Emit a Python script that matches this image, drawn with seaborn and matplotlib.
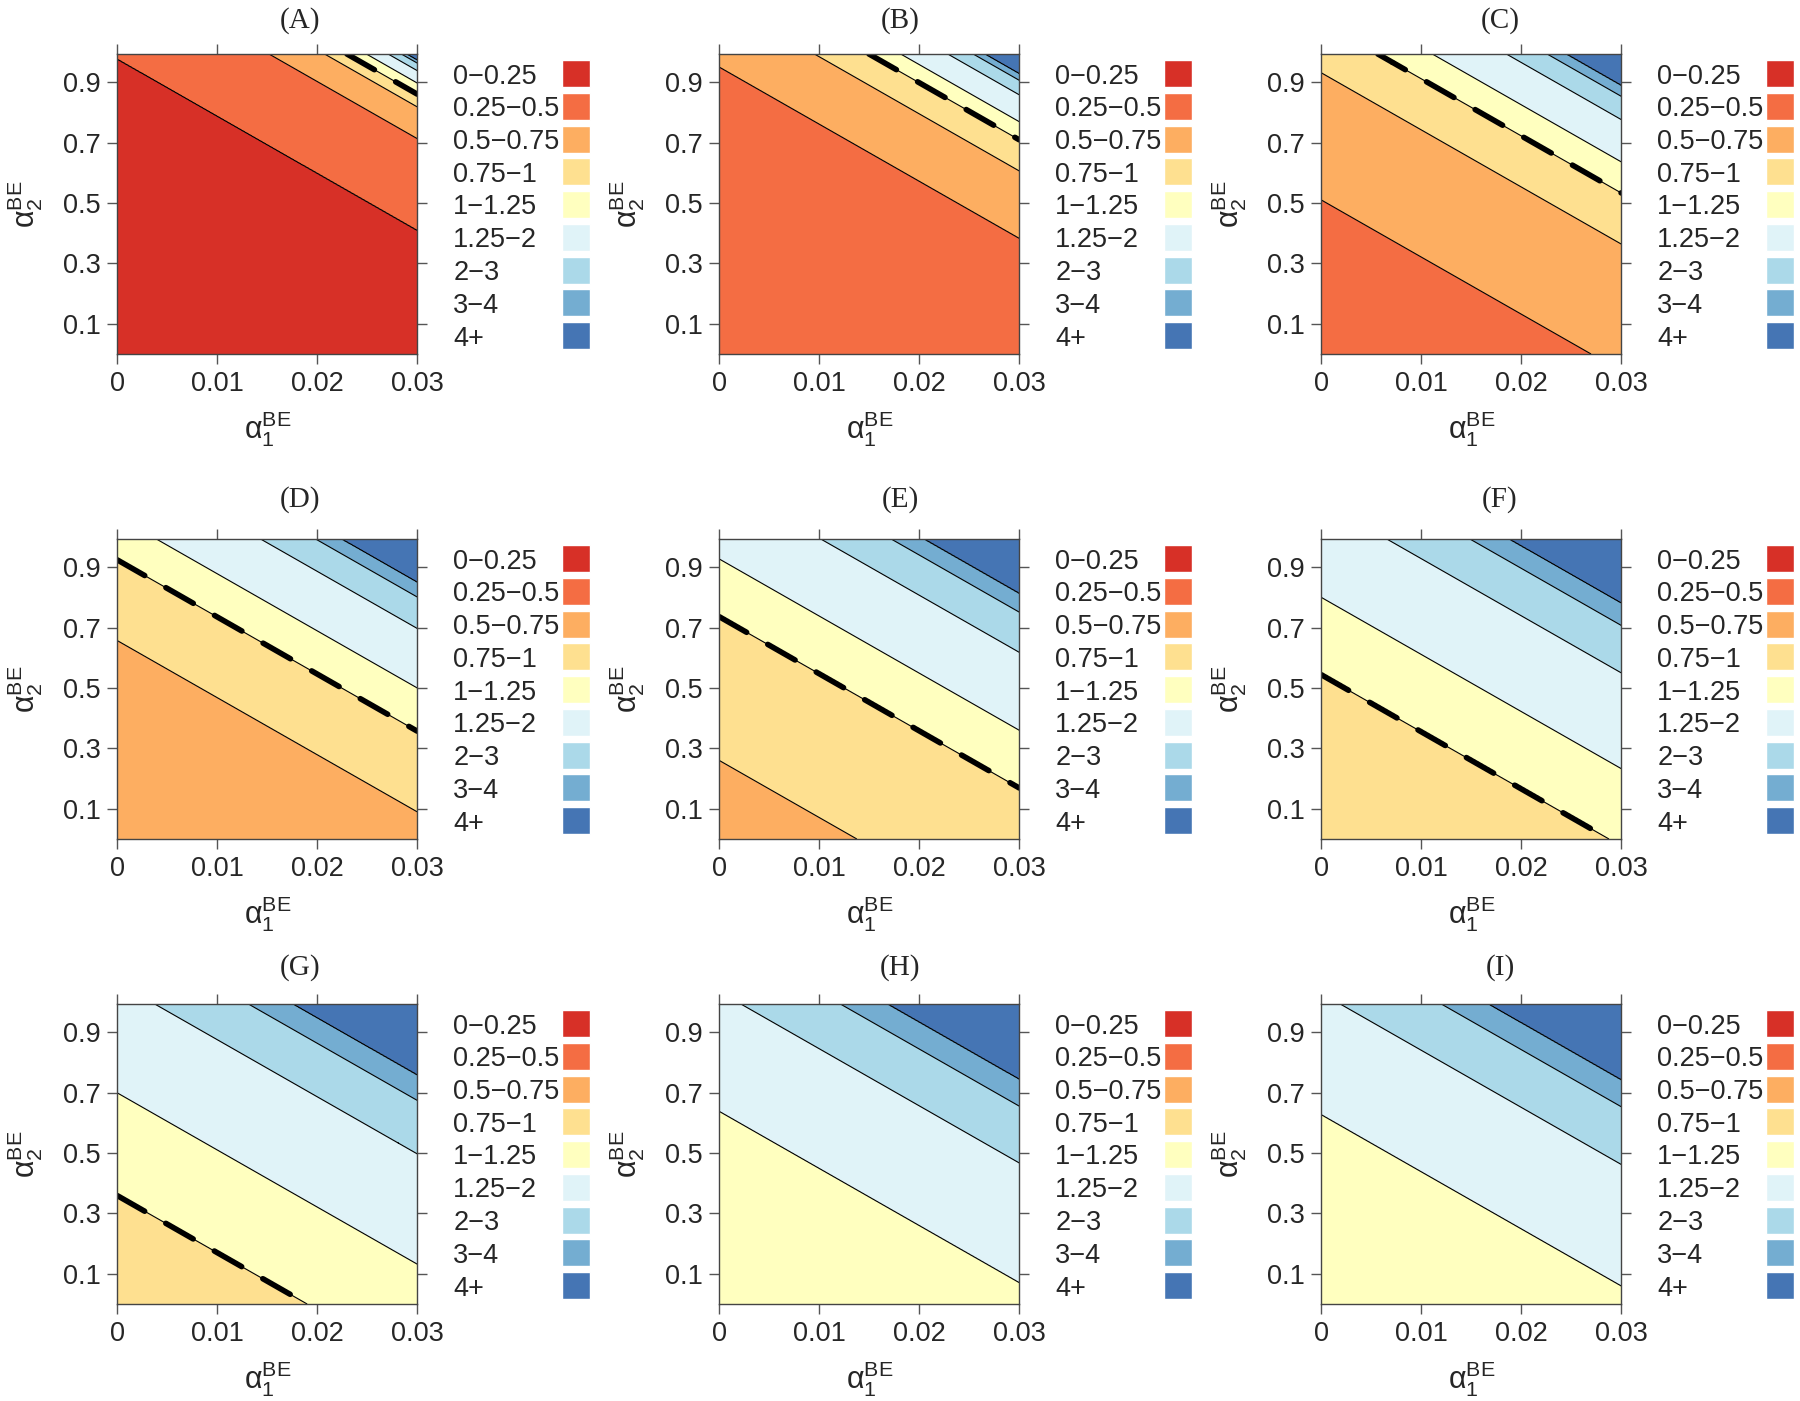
import numpy as np
import matplotlib
matplotlib.use("Agg")
import matplotlib.pyplot as plt
import seaborn as sns
from matplotlib.patches import Rectangle

# style: lattice-like contour panels
sns.set_theme(style="ticks")
plt.rcParams['font.family'] = ['Liberation Sans', 'DejaVu Sans']
plt.rcParams['mathtext.fontset'] = 'custom'
plt.rcParams['mathtext.rm'] = 'Liberation Sans'
plt.rcParams['mathtext.it'] = 'Liberation Sans:italic'
plt.rcParams['mathtext.sf'] = 'Liberation Sans'

# ---- data ----
panel_titles = ["(A)", "(B)", "(C)", "(D)", "(E)", "(F)", "(G)", "(H)", "(I)"]
level_breaks = [0.25, 0.5, 0.75, 1.0, 1.25, 2.0, 3.0, 4.0]
fill_levels = [0, 0.25, 0.5, 0.75, 1.0, 1.25, 2.0, 3.0, 4.0, 10.0]
legend_labels = ["0\u22120.25", "0.25\u22120.5", "0.5\u22120.75", "0.75\u22121", "1\u22121.25",
                 "1.25\u22122", "2\u22123", "3\u22124", "4+"]
band_colors = ["#d73027", "#f46d43", "#fdae61", "#fee090", "#ffffbf",
               "#e0f3f8", "#abd9e9", "#74add1", "#4575b4"]

# contour lines are parallel: alpha2 = intercept - slope * alpha1
line_slope = 18.9
# intercept (alpha2 at alpha1 = 0) of each level boundary, per panel
# (values < 0 or > 1.56 fall outside the plotted area)
cut_A = [0.975, 1.28, 1.385, 1.427, 1.464, 1.505, 1.53, 1.541]
cut_B = [-0.2, 0.95, 1.173, 1.276, 1.336, 1.425, 1.473, 1.496]
cut_C = [-0.3, 0.51, 0.931, 1.10, 1.203, 1.343, 1.42, 1.457]
cut_D = [-0.6, -0.2, 0.657, 0.924, 1.067, 1.264, 1.368, 1.418]
cut_E = [-0.8, -0.3, 0.26, 0.736, 0.927, 1.185, 1.318, 1.381]
cut_F = [-1.0, -0.6, -0.2, 0.544, 0.80, 1.117, 1.274, 1.349]
cut_G = [-1.2, -0.8, -0.4, 0.359, 0.699, 1.064, 1.241, 1.326]
cut_H = [-1.4, -1.0, -0.6, -0.2, 0.638, 1.034, 1.222, 1.312]
cut_I = [-1.4, -1.0, -0.6, -0.2, 0.627, 1.029, 1.22, 1.31]
panel_cuts = [cut_A, cut_B, cut_C, cut_D, cut_E, cut_F, cut_G, cut_H, cut_I]

x_range = (0, 0.03)
y_range = (0, 0.993)
x_ticks = [0, 0.01, 0.02, 0.03]
x_ticklabels = ["0", "0.01", "0.02", "0.03"]
y_ticks = [0.1, 0.3, 0.5, 0.7, 0.9]

palette = sns.color_palette(band_colors)

# ---- layout (pixels) ----
W, H = 1800, 1401
col_left = [117.3, 719.3, 1321.3]
row_top = [54, 539, 1004]
title_y = [21, 500, 968]
box = 300

fig = plt.figure(figsize=(W / 100, H / 100), dpi=100)

a1 = np.linspace(x_range[0], x_range[1], 601)
a2 = np.linspace(y_range[0], y_range[1], 601)
A1, A2 = np.meshgrid(a1, a2)
U = A2 + line_slope * A1

for i, (title, cuts) in enumerate(zip(panel_titles, panel_cuts)):
    r, c = divmod(i, 3)
    ax = fig.add_axes([col_left[c] / W, 1 - (row_top[r] + box) / H, box / W, box / H])

    Z = np.interp(U, cuts, level_breaks, left=0.1, right=6.0)
    ax.contourf(A1, A2, Z, levels=fill_levels, colors=palette, antialiased=True)
    ax.contour(A1, A2, Z, levels=level_breaks, colors='black', linewidths=0.8)
    # level 1 highlighted with a thick dashed line
    dash = ax.contour(A1, A2, Z, levels=[1.0], colors='black', linewidths=4.0,
                      linestyles=[(0, (5.7, 4.4))])
    dash.set_capstyle('round')

    ax.set_xlim(*x_range)
    ax.set_ylim(*y_range)
    ax.set_xticks(x_ticks)
    ax.set_xticklabels(x_ticklabels)
    ax.set_yticks(y_ticks)
    ax.set_yticklabels([f"{v:.1f}" for v in y_ticks])
    ax.tick_params(direction='out', length=7, width=1, color='#555555',
                   top=True, right=True, labeltop=False, labelright=False,
                   labelsize=19.5, pad=5)
    for sp in ax.spines.values():
        sp.set_visible(True)
        sp.set_color('#444444')
        sp.set_linewidth(1)

    ax.set_xlabel(r'$\mathrm{\alpha}_1^{\mathrm{BE}}$', fontsize=22)
    ax.xaxis.set_label_coords(0.5, -0.185)
    ax.xaxis.label.set_va('top')
    ax.set_ylabel(r'$\mathrm{\alpha}_2^{\mathrm{BE}}$', fontsize=22)
    ax.yaxis.set_label_coords(-0.24, 0.5)

    # key: labels on the left, colour squares on the right
    for k, (lab, col) in enumerate(zip(legend_labels, palette)):
        yc = 1 - (19.5 + 32.75 * k) / box
        ax.text(1.12, yc, lab, transform=ax.transAxes, ha='left', va='center_baseline',
                fontsize=19.5)
        ax.add_patch(Rectangle((1.483, yc - 0.045), 0.0933, 0.09, transform=ax.transAxes,
                               facecolor=col, edgecolor='white', linewidth=1, clip_on=False))

    fig.text((300 + 600 * c) / W, 1 - title_y[r] / H, title, ha='center', va='center',
             fontsize=21, family=['Liberation Serif', 'DejaVu Serif'])

fig.savefig("out.png", dpi=100)
